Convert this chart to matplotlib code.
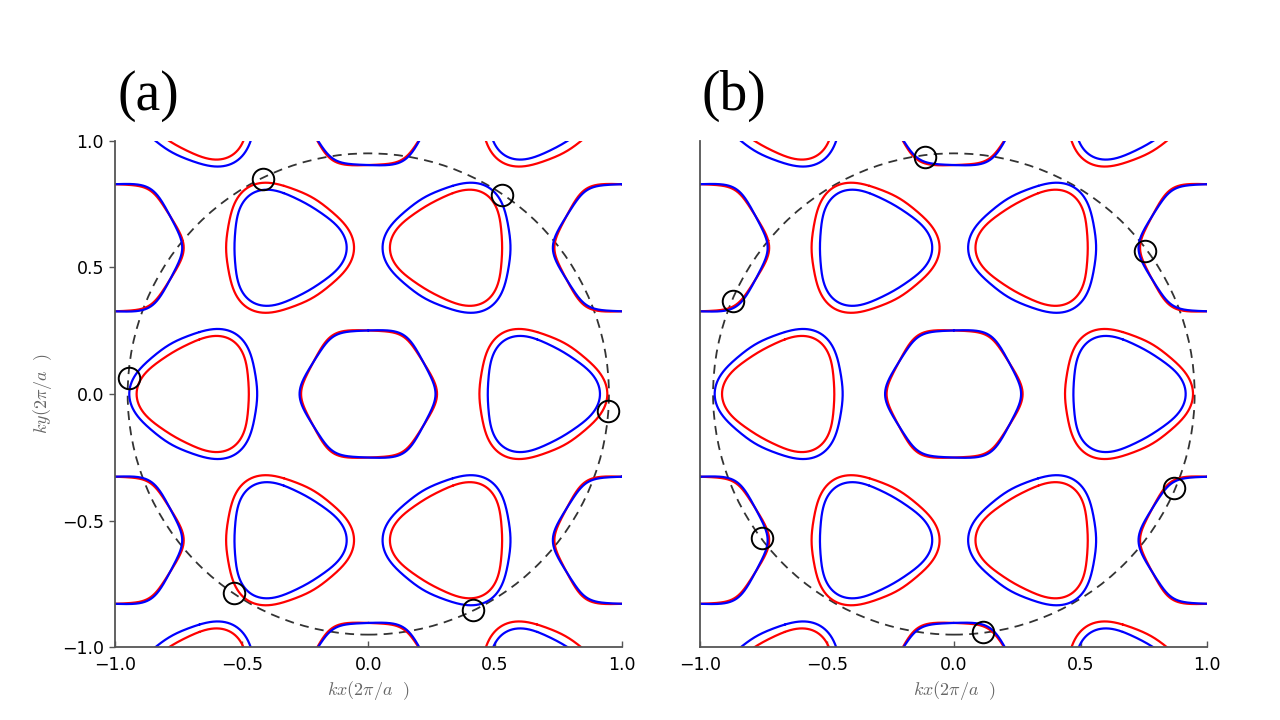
import numpy as np
import matplotlib
matplotlib.use("Agg")
import matplotlib.pyplot as plt
from matplotlib.patches import Circle

plt.rcParams['mathtext.fontset'] = 'cm'
plt.rcParams['font.family'] = ['DejaVu Sans']

# ---- data (k in units of 2*pi/a) ----
panel_labels = ['(a)', '(b)']
tick_values = [-1.0, -0.5, 0.0, 0.5, 1.0]
# Gamma-type pocket: apothem (flat side distance), corner sharpness, spin splitting
gamma_apothem = 0.251
gamma_corner_power = 9
gamma_split = 0.003
# K-type pockets: radius harmonics (r0, a3, a6) for outer and inner spin sheet
k_outer = [0.2485, 0.0245, 0.004]
k_inner = [0.2185, 0.0265, 0.003]
circle_radius = [0.950, 0.950]
# marked points (kx, ky) for each panel
marks_a_x = [-0.416, 0.528, -0.945, 0.946, -0.530, 0.413]
marks_a_y = [0.849, 0.786, 0.063, -0.067, -0.786, -0.853]
marks_b_x = [-0.114, 0.754, -0.870, 0.869, -0.755, 0.114]
marks_b_y = [0.937, 0.566, 0.369, -0.370, -0.569, -0.938]
marks = [(marks_a_x, marks_a_y), (marks_b_x, marks_b_y)]

# ---- reciprocal lattice and pocket centres ----
b1 = np.array([1.0, 1/np.sqrt(3)])
b2 = np.array([0.0, 2/np.sqrt(3)])
G = [n1*b1 + n2*b2 for n1 in range(-3, 4) for n2 in range(-3, 4)]
G = [g for g in G if abs(g[0]) < 1.5 and abs(g[1]) < 1.5]
K_pt = np.array([2/3, 0.0])
theta = np.linspace(0, 2*np.pi, 1441) + np.pi/2


def gamma_outline(sign):
    normals = np.deg2rad(30 + 60*np.arange(6))
    proj = np.clip(np.cos(theta[:, None] - normals[None, :]), 0, None)
    norm = (proj**gamma_corner_power).sum(axis=1)**(1/gamma_corner_power)
    return gamma_apothem/norm + sign*gamma_split*np.cos(3*theta)


def k_outline(params, orient):
    r0, a3, a6 = params
    return r0 + orient*a3*np.cos(3*theta) + a6*np.cos(6*theta)


fig = plt.figure(figsize=(12.8, 7.2), dpi=100)
W, H = 1280, 720
axes = [fig.add_axes([115/W, 72.7/H, 506.6/W, 506.6/H]),
        fig.add_axes([700.4/W, 72.7/H, 506.9/W, 506.6/H])]
label_x = [117, 702]
RED, BLUE = '#ff0000', '#0000ff'
LW = 1.6

for i, ax in enumerate(axes):
    curves = []
    for g in G:
        # Gamma-type pockets
        for sign, col in ((1, RED), (-1, BLUE)):
            r = gamma_outline(sign)
            curves.append((col, g[0] + r*np.cos(theta), g[1] + r*np.sin(theta)))
        # K (red outer) and K' (blue outer) pockets
        for c, orient, outer_col, inner_col in ((g + K_pt, 1, RED, BLUE),
                                                (g - K_pt, -1, BLUE, RED)):
            for params, col in ((k_outer, outer_col), (k_inner, inner_col)):
                r = k_outline(params, orient)
                curves.append((col, c[0] + r*np.cos(theta), c[1] + r*np.sin(theta)))
    for col in (RED, BLUE):
        for cc, x, y in curves:
            if cc == col:
                ax.plot(x, y, color=col, lw=LW, solid_joinstyle='round',
                        solid_capstyle='round')
    ax.add_patch(Circle((0, 0), circle_radius[i], fill=False, edgecolor='#333333',
                        lw=1.3, linestyle=(0, (5, 3.5))))
    mx, my = marks[i]
    ax.plot(mx, my, 'o', mfc='none', mec='black', ms=15.5, mew=1.4, zorder=5)
    ax.set_xlim(-1, 1)
    ax.set_ylim(-1, 1)
    ax.set_xticks(tick_values)
    ax.set_yticks(tick_values)
    for s in ['top', 'right']:
        ax.spines[s].set_visible(False)
    for s in ['left', 'bottom']:
        ax.spines[s].set_color('#555555')
        ax.spines[s].set_linewidth(1.3)
    ax.tick_params(axis='x', direction='in', length=4, width=1, colors='#555555',
                   labelcolor='black', labelsize=12.5, pad=6)
    ax.tick_params(axis='y', direction='out', length=4, width=1, colors='#555555',
                   labelcolor='black', labelsize=12.5, pad=4)
    ax.set_xlabel(r'$kx(2\pi/a\ \ )$', fontsize=13, color='#666666', labelpad=4)
    fig.text(label_x[i]/W, 1 - 110/H, panel_labels[i], fontsize=40,
             family='Liberation Serif', ha='left', va='baseline')

axes[0].set_ylabel(r'$ky(2\pi/a\ \ )$', fontsize=13, color='#666666', labelpad=6)
axes[1].tick_params(axis='y', length=0, labelleft=False)

fig.savefig('out.png', dpi=100)
